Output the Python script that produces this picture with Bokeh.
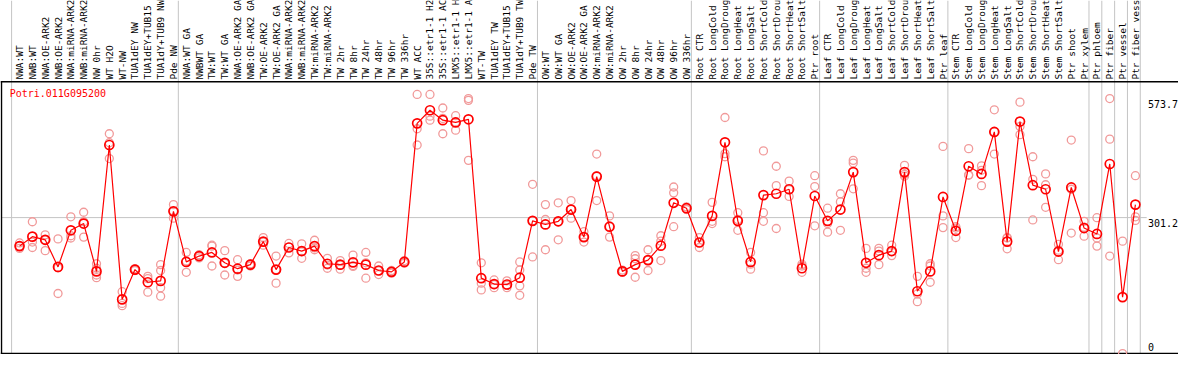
import math
from bokeh.plotting import figure
from bokeh.models import Range1d
from bokeh.embed import file_html
from bokeh.resources import INLINE
from bokeh.core.properties import value

gene = "Potri.011G095200"

labels = [
    "NWA:WT", "NWB:WT", "NWA:OE-ARK2", "NWB:OE-ARK2", "NWA:miRNA-ARK2", "NWB:miRNA-ARK2",
    "NW 0hr", "WT H2O", "WT-NW", "TUA1dEY NW", "TUA1dEY+TUB15", "TUA1dY+TUB9 NW", "Pde NW",
    "NWA:WT GA", "NWBWT GA", "TW:WT", "TW:WT GA", "NWA:OE-ARK2 GA", "NWB:OE-ARK2 GA",
    "TW:OE-ARK2", "TW:OE-ARK2 GA", "NWA:miRNA-ARK2", "NWB:miRNA-ARK2", "TW:miRNA-ARK2",
    "TW:miRNA-ARK2", "TW 2hr", "TW 8hr", "TW 24hr", "TW 48hr", "TW 96hr", "TW 336hr",
    "WT ACC", "35S::etr1-1 H2", "35S::etr1-1 AC", "LMX5::etr1-1 H", "LMX5::etr1-1 A",
    "WT-TW", "TUA1dEY TW", "TUA1dEY+TUB15", "TUA1dY+TUB9 TW", "Pde TW",
    "OW:WT", "OW:WT GA", "OW:OE-ARK2", "OW:OE-ARK2 GA", "OW:miRNA-ARK2", "OW:miRNA-ARK2",
    "OW 2hr", "OW 8hr", "OW 24hr", "OW 48hr", "OW 96hr", "OW 336hr",
    "Root CTR", "Root LongCold", "Root LongDroug", "Root LongHeat", "Root LongSalt",
    "Root ShortCold", "Root ShortDrou", "Root ShortHeat", "Root ShortSalt", "Ptr root",
    "Leaf CTR", "Leaf LongCold", "Leaf LongDroug", "Leaf LongHeat", "Leaf LongSalt",
    "Leaf ShortCold", "Leaf ShortDrou", "Leaf ShortHeat", "Leaf ShortSalt", "Ptr leaf",
    "Stem CTR", "Stem LongCold", "Stem LongDroug", "Stem LongHeat", "Stem LongSalt",
    "Stem ShortCold", "Stem ShortDrou", "Stem ShortHeat", "Stem ShortSalt", "Ptr shoot",
    "Ptr xylem", "Ptr phloem", "Ptr fiber", "Ptr vessel", "Ptr fiber vess",
]

means = [
    238, 259, 252, 192, 273, 288, 182, 462, 120, 186, 158, 161, 315,
    203, 216, 224, 201, 188, 197, 248, 186, 235, 227, 238, 199, 197, 202, 197, 184, 181, 203,
    510, 539, 517, 512, 519, 167, 154, 153, 168, 294,
    286, 293, 319, 258, 392, 281, 182, 197, 207, 239, 334, 322,
    246, 305, 468, 294, 203, 351, 354, 364, 189, 349,
    294, 319, 402, 201, 218, 227, 402, 138, 182, 347,
    272, 415, 398, 491, 248, 514, 373, 364, 226, 368,
    278, 265, 420, 125, 330,
]

replicates = [
    [245, 233, 238], [292, 247, 235], [263, 252, 228], [254, 133, 190], [303, 261, 256],
    [313, 258, 292], [199, 189, 174, 168], [487, 432, 467], [137, 111, 106], [184, 186, 188],
    [171, 136, 166], [197, 184, 146, 127], [330, 300, 316],
    [224, 180, 205], [212, 216, 219], [240, 238, 194], [228, 174, 200], [208, 171, 185],
    [194, 197, 199], [257, 240, 247], [216, 156, 186], [244, 223, 236], [243, 211, 226],
    [251, 230, 234], [211, 189, 196], [206, 187, 196], [218, 193, 195], [224, 201, 167],
    [194, 175, 183], [178, 181, 184], [200, 203, 206],
    [574, 498, 462], [574, 517, 526], [544, 487, 521], [527, 495, 513], [565, 561, 428],
    [201, 156, 141], [163, 146, 153], [161, 146, 151], [203, 185, 150, 129], [375, 214, 294],
    [330, 297, 230], [334, 252, 292], [339, 300, 320], [270, 247, 258], [442, 339, 394],
    [305, 258, 281], [180, 182, 185], [217, 210, 169], [230, 184, 207], [261, 249, 206],
    [369, 356, 281], [325, 319, 320],
    [257, 235, 246], [335, 293, 288], [523, 443, 436], [312, 273, 297], [224, 187, 198],
    [449, 312, 293], [415, 372, 277], [382, 348, 363], [198, 194, 180], [394, 370, 283],
    [322, 288, 269], [354, 336, 273], [428, 422, 365], [233, 189, 180], [233, 227, 197],
    [240, 217, 226], [417, 393, 397], [171, 132, 115], [199, 194, 158], [459, 305, 279],
    [278, 257, 281], [454, 396, 395], [416, 372, 406], [540, 442, 491], [256, 232, 257],
    [557, 503, 485], [436, 386, 296], [398, 374, 324], [242, 208, 229], [473, 364, 267],
    [293, 260, 280], [301, 256, 238], [565, 475, 216], [249, 0], [394, 303, 295],
]

group_starts = [0, 13, 41, 53, 63, 73, 84, 85, 86, 87, 88]
ref_value = 301.2
tick_values = [0, 301.2, 573.7]
tick_texts = ["0", "301.2", "573.7"]

# ---- layout ----
W, H = 1178, 354
X0, X1 = -1.485, 90.36
Y0, Y1 = -2.12, 782.2
FRAME_TOP = 602.0
FRAME_LEFT = -1.41
LABEL_X = 87.98
MONO = value("DejaVu Sans Mono")

p = figure(width=W, height=H, output_backend="svg", toolbar_location=None,
           x_range=Range1d(X0, X1), y_range=Range1d(Y0, Y1),
           x_axis_location=None, y_axis_location=None,
           min_border=0, min_border_left=0, min_border_right=0,
           min_border_top=0, min_border_bottom=0)
p.grid.visible = False
p.outline_line_color = None
p.background_fill_color = "white"
p.border_fill_color = "white"

n = len(labels)
xs = list(range(n))

# group separators
sep_x = [s - 0.62 for s in group_starts]
p.segment(x0=sep_x, y0=[0] * len(sep_x), x1=sep_x, y1=[Y1] * len(sep_x),
          line_color="#c4c4c4", line_width=1)
# reference horizontal line
p.segment(x0=[FRAME_LEFT], y0=[ref_value], x1=[LABEL_X - 0.1], y1=[ref_value],
          line_color="#c4c4c4", line_width=1)

# frame lines
p.segment(x0=[X0, X0, FRAME_LEFT], y0=[FRAME_TOP, 0, 0],
          x1=[X1, X1, FRAME_LEFT], y1=[FRAME_TOP, 0, FRAME_TOP],
          line_color="black", line_width=1.5)

# category labels (vertical)
p.text(x=xs, y=[FRAME_TOP + 5] * n, text=labels, angle=math.pi / 2,
       text_align="left", text_baseline="middle", text_font=MONO,
       text_font_size="9.5px", text_color="black")

# replicates
rx, ry = [], []
for i, reps in enumerate(replicates):
    for v in reps:
        rx.append(i)
        ry.append(v)
p.scatter(rx, ry, marker="circle", size=8, fill_color=None,
          line_color="#f19a9a", line_width=1.3)

# mean line + markers
p.line(xs, means, line_color="#ff0000", line_width=1.2)
p.scatter(xs, means, marker="circle", size=9, fill_color=None,
          line_color="#ff0000", line_width=1.7)

# gene label
p.text(x=[-0.77], y=[577], text=[gene], text_align="left", text_baseline="middle",
       text_font=MONO, text_font_size="10px", text_color="#ff0000")

# value labels on right
for v, t in zip(tick_values, tick_texts):
    if v == 0:
        p.text(x=[LABEL_X], y=[v], text=[t], text_align="left", text_baseline="bottom",
               y_offset=-3, text_font=MONO, text_font_size="10px", text_color="black")
    else:
        off = 1 if v < max(tick_values) else 5
        p.text(x=[LABEL_X], y=[v], text=[t], text_align="left", text_baseline="top",
               y_offset=off, text_font=MONO, text_font_size="10px", text_color="black")

open("out.html", "w").write(file_html(p, INLINE))
